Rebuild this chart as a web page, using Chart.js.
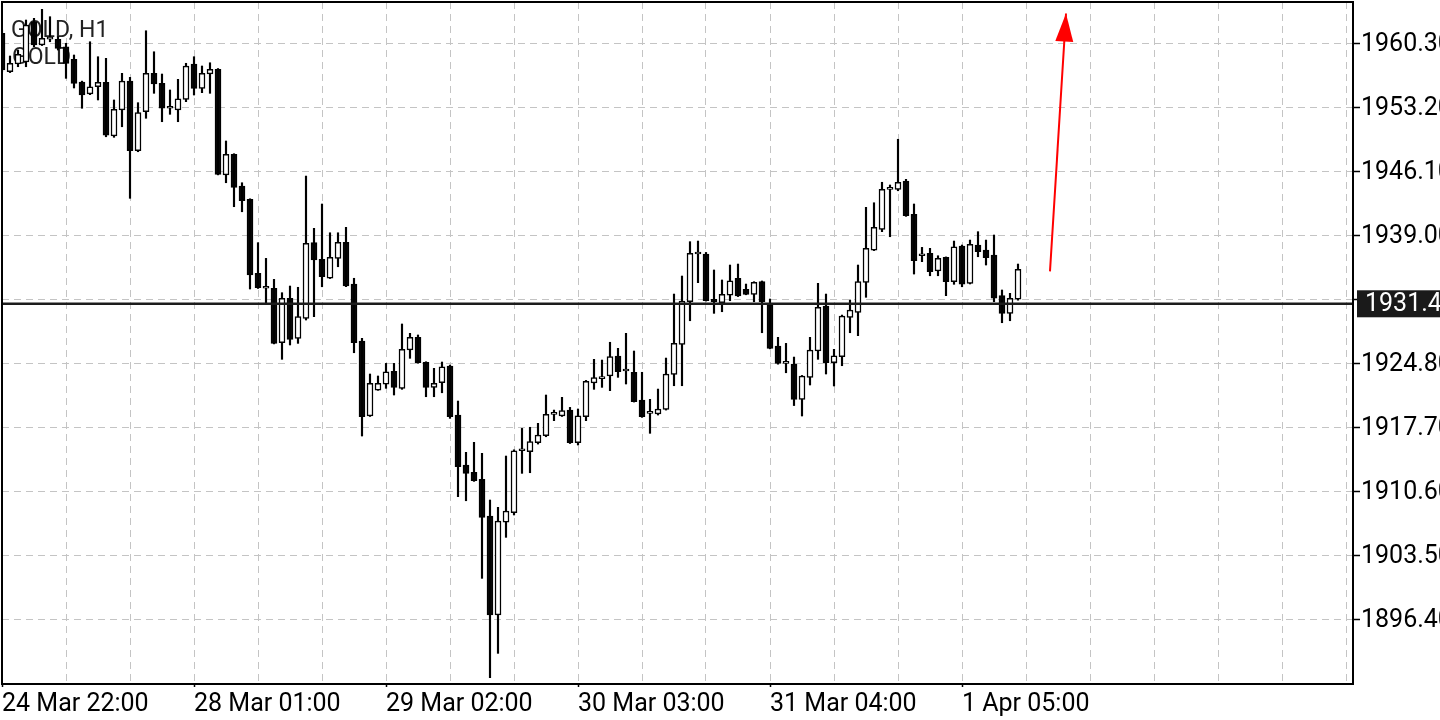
<!DOCTYPE html>
<html>
<head>
<meta charset="utf-8">
<script src="https://cdn.jsdelivr.net/npm/chart.js@4.4.1/dist/chart.umd.min.js"></script>
<style>
    html, body { margin: 0; padding: 0; background: #fff; }
    #wrap { width: 1440px; height: 720px; }
</style>
</head>
<body>
<div id="wrap"><canvas id="goldChart"></canvas></div>
<script>
// --- DATA (GOLD, H1 candles) ---
const symbolTitle = 'GOLD, H1';
const symbolName = 'GOLD';

const opens = [
    1961.41, 1957.15, 1958.00, 1958.22, 1962.69, 1960.11, 1960.77, 1960.74,
    1959.92, 1958.52, 1956.00, 1954.67, 1955.48, 1955.97, 1950.01, 1952.90,
    1956.11, 1948.38, 1952.71, 1956.97, 1955.86, 1953.09, 1952.90, 1954.08,
    1958.00, 1955.30, 1956.89, 1957.41, 1945.69, 1947.98, 1944.47, 1942.99,
    1934.78, 1933.12, 1933.12, 1927.08, 1932.01, 1927.57, 1929.79, 1938.18,
    1936.33, 1934.23, 1936.44, 1938.22, 1933.59, 1927.27, 1918.95, 1921.83,
    1922.47, 1923.91, 1922.02, 1926.27, 1927.68, 1924.90, 1922.13, 1922.64,
    1924.50, 1919.06, 1913.51, 1912.70, 1911.93, 1907.85, 1896.87, 1907.16,
    1908.22, 1915.10, 1914.99, 1915.99, 1916.76, 1919.14, 1918.95, 1919.61,
    1915.99, 1918.87, 1922.61, 1923.09, 1923.39, 1925.61, 1923.94, 1923.80,
    1920.72, 1919.25, 1919.17, 1919.69, 1923.57, 1926.90, 1931.63, 1936.92,
    1936.92, 1931.90, 1931.52, 1932.37, 1934.23, 1933.00, 1932.45, 1933.85,
    1931.37, 1926.72, 1924.79, 1924.72, 1920.80, 1923.24, 1926.16, 1931.15,
    1924.86, 1925.53, 1929.90, 1930.45, 1933.78, 1937.36, 1939.66, 1944.10,
    1944.10, 1945.02, 1941.33, 1936.73, 1937.00, 1935.04, 1936.56, 1933.85,
    1937.81, 1933.67, 1937.92, 1937.36, 1936.81, 1932.30, 1930.34, 1931.90
];
const highs = [
    1961.77, 1958.89, 1959.55, 1962.88, 1963.07, 1964.07, 1963.25, 1961.03,
    1960.30, 1959.00, 1956.10, 1960.47, 1958.81, 1958.63, 1954.01, 1956.97,
    1956.52, 1953.71, 1961.69, 1959.36, 1956.89, 1955.12, 1956.30, 1958.08,
    1958.81, 1957.78, 1958.14, 1957.50, 1949.46, 1948.05, 1944.83, 1943.05,
    1938.18, 1936.44, 1934.11, 1932.63, 1933.37, 1933.23, 1945.57, 1939.77,
    1942.47, 1939.28, 1939.28, 1939.88, 1934.23, 1927.57, 1923.61, 1923.39,
    1924.79, 1924.79, 1929.16, 1928.12, 1927.94, 1924.97, 1924.24, 1924.94,
    1924.60, 1920.61, 1914.92, 1916.03, 1914.81, 1909.63, 1908.82, 1914.51,
    1915.20, 1917.58, 1917.70, 1918.14, 1921.28, 1919.61, 1921.02, 1919.91,
    1919.73, 1922.90, 1925.24, 1925.16, 1927.13, 1926.46, 1928.12, 1926.16,
    1923.80, 1920.80, 1921.94, 1925.38, 1932.48, 1934.48, 1938.29, 1938.36,
    1937.10, 1935.15, 1934.04, 1935.70, 1935.81, 1933.59, 1933.85, 1933.93,
    1931.93, 1927.68, 1927.01, 1925.49, 1923.45, 1927.68, 1933.67, 1932.48,
    1926.35, 1930.15, 1931.82, 1935.70, 1942.10, 1942.61, 1944.88, 1944.58,
    1949.65, 1945.21, 1942.47, 1937.66, 1937.55, 1936.73, 1936.60, 1938.36,
    1937.92, 1938.47, 1939.40, 1938.47, 1939.03, 1932.93, 1932.56, 1935.81
];
const lows = [
    1957.11, 1957.05, 1957.70, 1957.70, 1959.92, 1960.05, 1960.47, 1959.55,
    1956.41, 1955.34, 1953.09, 1954.60, 1954.01, 1949.93, 1949.87, 1951.04,
    1943.10, 1948.27, 1951.98, 1954.75, 1951.60, 1952.42, 1951.60, 1953.82,
    1954.56, 1954.82, 1954.75, 1945.70, 1944.83, 1942.17, 1941.61, 1933.04,
    1933.10, 1931.45, 1926.95, 1925.24, 1926.83, 1927.01, 1929.60, 1929.97,
    1933.29, 1934.20, 1935.51, 1933.30, 1925.97, 1916.73, 1918.90, 1921.80,
    1922.02, 1921.28, 1921.91, 1925.35, 1924.80, 1921.09, 1921.09, 1921.53,
    1918.69, 1910.00, 1909.55, 1911.70, 1900.94, 1889.92, 1892.62, 1905.49,
    1907.97, 1912.59, 1912.66, 1915.84, 1916.65, 1918.43, 1918.90, 1915.90,
    1915.73, 1918.43, 1921.91, 1922.13, 1921.76, 1923.24, 1922.50, 1920.50,
    1918.80, 1917.03, 1919.06, 1919.61, 1922.31, 1922.31, 1929.52, 1933.74,
    1931.70, 1930.34, 1930.52, 1931.74, 1932.20, 1932.40, 1931.63, 1928.19,
    1926.40, 1924.70, 1923.75, 1920.11, 1918.95, 1922.39, 1925.24, 1923.61,
    1922.28, 1924.53, 1928.19, 1927.86, 1932.12, 1937.30, 1939.40, 1938.84,
    1943.94, 1941.10, 1934.70, 1936.07, 1934.51, 1934.51, 1932.30, 1933.56,
    1933.29, 1933.60, 1936.62, 1935.70, 1931.63, 1929.30, 1929.52, 1931.80
];
const closes = [
    1957.34, 1958.08, 1959.08, 1962.33, 1960.11, 1960.85, 1960.77, 1959.74,
    1958.08, 1955.86, 1954.56, 1955.48, 1955.97, 1950.12, 1952.97, 1956.11,
    1948.38, 1952.60, 1956.97, 1955.78, 1953.09, 1953.09, 1954.15, 1957.78,
    1955.30, 1956.97, 1957.41, 1945.76, 1947.98, 1944.32, 1942.83, 1934.59,
    1933.18, 1933.12, 1927.01, 1932.01, 1927.46, 1929.97, 1938.11, 1936.26,
    1934.40, 1936.55, 1938.22, 1933.37, 1927.08, 1918.87, 1922.58, 1922.58,
    1923.86, 1922.13, 1926.35, 1927.68, 1924.86, 1922.13, 1922.58, 1924.42,
    1918.87, 1913.32, 1912.59, 1911.77, 1907.71, 1896.87, 1907.30, 1908.41,
    1915.10, 1915.10, 1916.10, 1916.84, 1919.14, 1919.14, 1919.54, 1915.99,
    1918.98, 1922.80, 1923.22, 1923.24, 1925.53, 1923.86, 1923.94, 1920.54,
    1918.87, 1919.25, 1919.73, 1923.61, 1927.01, 1931.71, 1937.00, 1936.92,
    1931.74, 1931.63, 1932.45, 1933.96, 1932.26, 1932.45, 1933.78, 1931.63,
    1926.46, 1924.79, 1924.79, 1920.80, 1923.39, 1926.27, 1931.01, 1924.86,
    1925.64, 1930.04, 1930.71, 1933.85, 1937.55, 1939.88, 1944.10, 1944.10,
    1944.88, 1941.17, 1936.18, 1936.73, 1934.96, 1936.44, 1933.85, 1937.73,
    1933.59, 1938.00, 1937.18, 1936.51, 1932.01, 1930.34, 1932.01, 1935.22
];

// time axis: one slot per hour bar, a label every 24 bars, a grid line every 8
const xLabelIndex = [0, 24, 48, 72, 96, 120];
const xLabels = ['24 Mar 22:00', '28 Mar 01:00', '29 Mar 02:00', '30 Mar 03:00', '31 Mar 04:00', '1 Apr 05:00'];
const xGridStep = 8;
const xRange = [0, 168.875];

// price axis (the 1931.90 label sits under the price tag, so it is left blank)
const yTicks = [1896.4, 1903.5, 1910.6, 1917.7, 1924.8, 1931.9, 1939.0, 1946.1, 1953.2, 1960.3];
const yHiddenLabels = [1931.9];
const yRange = [1889.22, 1964.88];

// horizontal price line and the drawn arrow (bar index, price)
const priceLevel = 1931.4;
const arrowPath = [{ x: 131, y: 1935.0 }, { x: 133, y: 1963.6 }];

// --- BUILD ---
const barIndex = opens.map((_, i) => i);
const wickData = barIndex.map(i => ({ x: i, y: [lows[i], highs[i]] }));
const bodyData = barIndex.map(i => ({ x: i, y: [opens[i], closes[i]] }));
const isUp = i => closes[i] >= opens[i];
const gridTicks = [];
for (let v = xRange[0]; v <= xRange[1]; v += xGridStep) gridTicks.push(v);

const FONT = 'Roboto';
const GRID = '#c4c4c4';

const chartDecor = {
    id: 'chartDecor',
    beforeDraw(chart) {
        const { ctx, width, height } = chart;
        ctx.save();
        ctx.fillStyle = '#fff';
        ctx.fillRect(0, 0, width, height);
        ctx.restore();
    },
    beforeDatasetsDraw(chart) {
        const { ctx } = chart;
        ctx.save();
        ctx.fillStyle = '#222';
        ctx.font = `23px ${FONT}`;
        ctx.textBaseline = 'alphabetic';
        ctx.fillText(symbolTitle, 11, 37);
        ctx.fillText(symbolName, 12, 64);
        ctx.restore();
    },
    afterDatasetsDraw(chart) {
        const { ctx, chartArea: a, scales: { y } } = chart;
        ctx.save();
        // price line
        const py = y.getPixelForValue(priceLevel);
        ctx.strokeStyle = '#1c1c1c';
        ctx.lineWidth = 2.5;
        ctx.beginPath();
        ctx.moveTo(a.left, py);
        ctx.lineTo(a.right, py);
        ctx.stroke();

        // arrow head on the last point of the arrow dataset
        const pts = chart.getDatasetMeta(2).data;
        if (pts.length > 1) {
            const p0 = pts[pts.length - 2], p1 = pts[pts.length - 1];
            const ang = Math.atan2(p1.y - p0.y, p1.x - p0.x);
            const len = 28, half = 9;
            const bx = p1.x - len * Math.cos(ang), by = p1.y - len * Math.sin(ang);
            ctx.fillStyle = '#ff0000';
            ctx.beginPath();
            ctx.moveTo(p1.x, p1.y);
            ctx.lineTo(bx + half * Math.sin(ang), by - half * Math.cos(ang));
            ctx.lineTo(bx - half * Math.sin(ang), by + half * Math.cos(ang));
            ctx.closePath();
            ctx.fill();
        }

        // frame
        ctx.strokeStyle = '#000';
        ctx.lineWidth = 2;
        ctx.strokeRect(a.left, a.top, a.right - a.left, a.bottom - a.top);
        ctx.restore();
    },
    afterDraw(chart) {
        const { ctx, chartArea: a, scales: { y }, width } = chart;
        const py = y.getPixelForValue(priceLevel);
        ctx.save();
        ctx.fillStyle = '#1a1a1a';
        ctx.fillRect(a.right + 4, py - 13.5, width - a.right - 4, 27);
        ctx.fillStyle = '#fff';
        ctx.font = `25px ${FONT}`;
        ctx.textBaseline = 'middle';
        ctx.fillText(priceLevel.toFixed(2), a.right + 12, py + 1);
        ctx.restore();
    }
};

const ctx = document.getElementById('goldChart').getContext('2d');
window.goldChart = new Chart(ctx, {
    type: 'bar',
    data: {
        datasets: [
            {
                label: 'wick',
                data: wickData,
                backgroundColor: '#000',
                barThickness: 1.5,
                grouped: false,
                order: 3
            },
            {
                label: 'body',
                data: bodyData,
                backgroundColor: (c) => isUp(c.dataIndex) ? '#fff' : '#000',
                borderColor: '#000',
                borderWidth: 1.5,
                borderSkipped: false,
                barThickness: 6,
                minBarLength: 2,
                grouped: false,
                order: 2
            },
            {
                type: 'line',
                label: 'arrow',
                data: arrowPath,
                borderColor: '#ff0000',
                borderWidth: 2,
                pointRadius: 0,
                tension: 0,
                order: 1
            }
        ]
    },
    options: {
        responsive: true,
        maintainAspectRatio: false,
        animation: false,
        layout: { padding: { left: 2, top: 2, right: 0, bottom: 0 } },
        plugins: {
            legend: { display: false },
            tooltip: { enabled: false }
        },
        scales: {
            x: {
                type: 'linear',
                min: xRange[0],
                max: xRange[1],
                offset: false,
                afterBuildTicks: (axis) => { axis.ticks = gridTicks.map(v => ({ value: v })); },
                afterFit: (axis) => { axis.height = 36; axis.paddingLeft = 0; axis.paddingRight = 0; },
                grid: {
                    color: GRID,
                    lineWidth: 1,
                    offset: false,
                    tickLength: 3,
                    tickWidth: 1.5,
                    tickColor: (c) => xLabelIndex.includes(c.tick && c.tick.value) ? '#000' : 'rgba(0,0,0,0)'
                },
                border: { display: true, color: '#000', width: 2, dash: [7, 5] },
                ticks: {
                    autoSkip: false,
                    maxRotation: 0,
                    minRotation: 0,
                    align: 'start',
                    padding: 3,
                    color: '#000',
                    font: { family: FONT, size: 25 },
                    callback: (v) => {
                        const j = xLabelIndex.indexOf(v);
                        return j >= 0 ? xLabels[j] : '';
                    }
                }
            },
            y: {
                type: 'linear',
                position: 'right',
                min: yRange[0],
                max: yRange[1],
                beginAtZero: false,
                afterBuildTicks: (axis) => { axis.ticks = yTicks.map(v => ({ value: v })); },
                afterFit: (axis) => { axis.width = 87; axis.paddingTop = 0; axis.paddingBottom = 0; },
                grid: {
                    color: GRID,
                    lineWidth: 1,
                    tickLength: 7,
                    tickWidth: 1.5,
                    tickColor: '#000'
                },
                border: { display: true, color: '#000', width: 2, dash: [7, 5] },
                ticks: {
                    autoSkip: false,
                    padding: 1,
                    labelOffset: 1,
                    color: '#000',
                    font: { family: FONT, size: 25 },
                    callback: (v) => yHiddenLabels.includes(v) ? '' : Number(v).toFixed(2)
                }
            }
        }
    },
    plugins: [chartDecor]
});
</script>
</body>
</html>
